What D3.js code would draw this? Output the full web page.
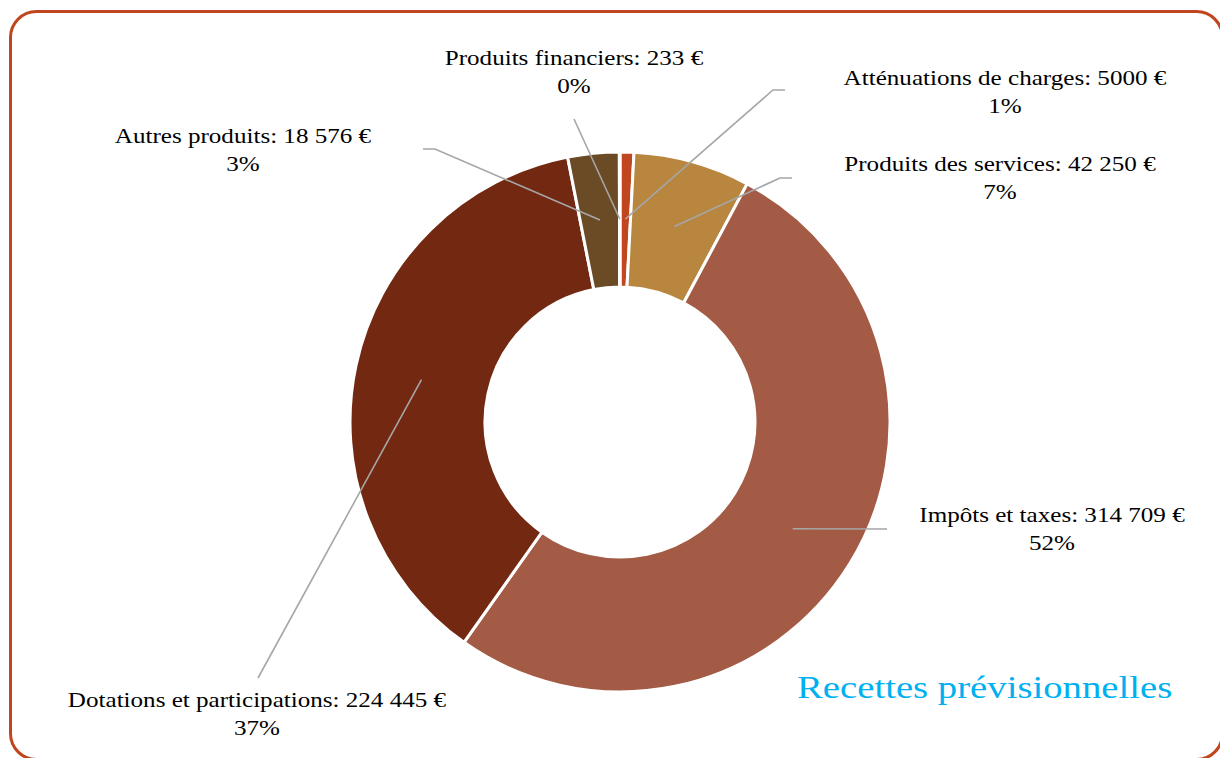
<!DOCTYPE html>
<html>
<head>
<meta charset="utf-8">
<script src="https://cdn.jsdelivr.net/npm/d3@7/dist/d3.min.js"></script>
<style>
  html, body { margin: 0; padding: 0; background: #fff; }
  svg { display: block; }
</style>
</head>
<body>
<svg id="chart" width="1220" height="758"></svg>
<script>
// ---- data ----
const categories = [
  "Atténuations de charges",
  "Produits des services",
  "Impôts et taxes",
  "Dotations et participations",
  "Autres produits",
  "Produits financiers"
];
const values = [5000, 42250, 314709, 224445, 18576, 233];
const valueLabels = ["5000 €", "42 250 €", "314 709 €", "224 445 €", "18 576 €", "233 €"];
const percentLabels = ["1%", "7%", "52%", "37%", "3%", "0%"];
const colors = ["#c0461f", "#b9863f", "#a35b45", "#722811", "#6b4a26", "#c0461f"];
const title = "Recettes prévisionnelles";

// ---- layout (label anchors and leader elbows) ----
const labelLayout = [
  { x: 1005, y: 85,  elbow: [[785, 90], [773, 90]] },
  { x: 1000, y: 171, elbow: [[792, 178], [780, 178]] },
  { x: 1052, y: 522, elbow: [[887, 529]] },
  { x: 257,  y: 707, elbow: [[258, 678]] },
  { x: 243,  y: 143, elbow: [[423, 149], [435, 149]] },
  { x: 574,  y: 65,  elbow: [[574, 119]] }
];
const labelStretch = 1.14, titleStretch = 1.21;

const svg = d3.select("#chart");
const cx = 620, cy = 422, rOuter = 270, rInner = 135;

// frame
svg.append("rect")
  .attr("x", 10.5).attr("y", 11.5)
  .attr("width", 1212).attr("height", 748)
  .attr("rx", 26).attr("ry", 26)
  .attr("fill", "none")
  .attr("stroke", "#c0461f")
  .attr("stroke-width", 3);

const pie = d3.pie().sort(null).value(d => d)(values);
const arc = d3.arc().innerRadius(rInner).outerRadius(rOuter);
const mid = d3.arc().innerRadius(203).outerRadius(203);

const g = svg.append("g").attr("transform", `translate(${cx},${cy})`);
g.selectAll("path.slice").data(pie).enter().append("path")
  .attr("class", "slice")
  .attr("d", arc)
  .attr("fill", (d, i) => colors[i])
  .attr("stroke", "#fff")
  .attr("stroke-width", 3)
  .attr("stroke-linejoin", "miter");

// leader lines
const line = d3.line();
pie.forEach((d, i) => {
  const c = mid.centroid(d);
  const pts = labelLayout[i].elbow.map(p => p.slice());
  pts.push([c[0] + cx, c[1] + cy]);
  svg.append("path")
    .attr("d", line(pts))
    .attr("fill", "none")
    .attr("stroke", "#a6a6a6")
    .attr("stroke-width", 1.6);
});

function stretch(sel, k) {
  const w = sel.node().getComputedTextLength();
  sel.attr("textLength", w * k).attr("lengthAdjust", "spacingAndGlyphs");
}

// labels
const font = "'Liberation Serif', 'Times New Roman', serif";
categories.forEach((c, i) => {
  const L = labelLayout[i];
  const t1 = svg.append("text")
    .attr("x", L.x).attr("y", L.y)
    .attr("text-anchor", "middle")
    .attr("font-family", font)
    .attr("font-size", 22)
    .attr("fill", "#000")
    .text(c + ": " + valueLabels[i]);
  stretch(t1, labelStretch);
  const t2 = svg.append("text")
    .attr("x", L.x).attr("y", L.y + 28)
    .attr("text-anchor", "middle")
    .attr("font-family", font)
    .attr("font-size", 22)
    .attr("fill", "#000")
    .text(percentLabels[i]);
  stretch(t2, labelStretch);
});

// title
const tt = svg.append("text")
  .attr("x", 797).attr("y", 698)
  .attr("font-family", font)
  .attr("font-size", 32)
  .attr("fill", "#00b0f0")
  .text(title);
stretch(tt, titleStretch);
</script>
</body>
</html>
